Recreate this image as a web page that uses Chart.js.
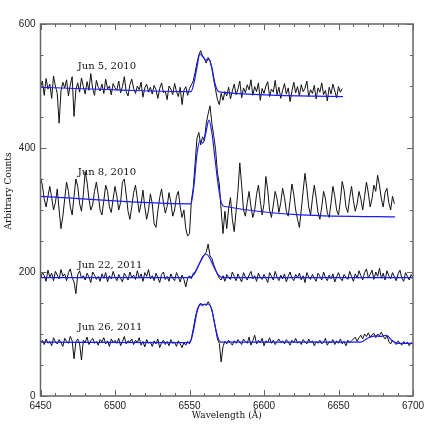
<!DOCTYPE html>
<html>
<head>
<meta charset="utf-8">
<script src="https://cdn.jsdelivr.net/npm/chart.js@4.4.0/dist/chart.umd.min.js"></script>
<style>
  html, body { margin: 0; padding: 0; background: #fff; }
  canvas { display: block; }
</style>
</head>
<body>
<canvas id="grafico" width="436" height="436"></canvas>
<script>
// muestreo de los espectros (Angstrom)
const inicioOnda = 6450;
const pasoOnda = 1.25;

const fechas = ['Jun 5, 2010', 'Jun 8, 2010', 'Jun 22, 2011', 'Jun 26, 2011'];
const posEtiquetas = [[6475, 531], [6475, 360], [6475, 211], [6475, 111]];

const ticksX = [6450, 6500, 6550, 6600, 6650, 6700];
const ticksY = [0, 200, 400, 600];

// espectros observados
const jun5 = [
  498, 508, 485, 512, 495, 503, 480, 516, 500, 488,
  440, 492, 506, 497, 510, 484, 502, 515, 451, 494,
  505, 490, 513, 499, 487, 507, 493, 520, 496, 485,
  509, 498, 492, 503, 488, 511, 495, 500, 486, 504,
  497, 493, 508, 489, 499, 515, 491, 484, 502, 511,
  496, 488, 500, 494, 506, 482, 497, 503, 490, 498,
  487, 501, 494, 480, 496, 505, 489, 492, 478, 500,
  495, 486, 504, 491, 483, 498, 470, 493, 499, 485,
  496, 502, 508, 522, 537, 550, 557, 549, 544, 537,
  546, 541, 528, 510, 494, 478, 470, 488, 477, 491,
  484, 498, 479, 492, 503, 486, 495, 508, 481, 497,
  489, 502, 494, 510, 485, 499, 491, 505, 477, 496,
  488, 500, 507, 483, 495, 490, 509, 486, 498, 480,
  493, 504, 487, 497, 475, 492, 506, 489, 499, 484,
  502, 491, 496, 508, 483, 494, 488, 501, 479, 497,
  490, 505, 486, 493, 476, 498, 487, 503, 492, 481,
  499, 490, 496
];
const jun8 = [
  352, 340, 318, 305, 322, 338, 320, 300, 312, 334,
  300, 270, 290, 318, 345, 330, 305, 292, 322, 350,
  338, 310, 298, 325, 362, 345, 318, 300, 308, 330,
  345, 325, 300, 292, 315, 340, 330, 305, 296, 318,
  338, 322, 300, 312, 345, 350, 325, 298, 285, 305,
  328, 340, 318, 296, 310, 332, 305, 285, 300, 326,
  310, 278, 272, 298, 320, 334, 312, 295, 306, 328,
  312, 290, 300, 322, 330, 305, 288, 300, 270, 258,
  262, 315, 335, 375, 415, 425, 405, 418, 412, 440,
  455, 468, 440, 420, 398, 360, 342, 300, 262, 298,
  270, 302, 320, 285, 265, 298, 330, 376, 340, 300,
  290, 312, 330, 305, 288, 300, 325, 340, 315, 292,
  310, 354, 332, 300, 288, 308, 330, 318, 296, 312,
  335, 320, 298, 290, 315, 342, 325, 300, 285, 272,
  300, 330, 359, 335, 305, 292, 318, 340, 320, 296,
  285, 305, 330, 318, 295, 288, 312, 338, 322, 300,
  292, 315, 346, 332, 305, 296, 320, 338, 315, 298,
  310, 330, 318, 300, 322, 345, 328, 305, 318, 340,
  330, 356, 340, 318, 305, 328, 335, 312, 300, 322,
  310
];
const jun22 = [
  188, 200, 194, 185, 203, 192, 198, 186, 201, 195,
  189, 204, 193, 197, 186, 199, 205, 191, 184, 165,
  196, 202, 190, 194, 187, 198, 192, 183, 200, 195,
  188, 193, 185, 197, 190, 199, 184, 194, 189, 201,
  192, 186, 196, 190, 184, 198, 193, 187, 200, 191,
  195, 188, 202, 190, 197, 185, 199, 193, 204, 189,
  194, 186, 198, 191, 183, 196, 200, 188, 193, 185,
  197, 190, 186, 199, 192, 184, 195, 188, 176, 190,
  194, 189, 198, 200, 206, 212, 218, 225, 228, 232,
  245, 226, 222, 212, 204, 196, 190, 187, 194, 185,
  196, 191, 188, 200, 193, 186, 197, 190, 184, 199,
  192, 187, 195, 201, 189, 194, 185, 198, 191, 188,
  196, 190, 183, 199, 193, 187, 201, 192, 186, 195,
  189, 197, 184, 193, 200, 190, 186, 196, 191, 198,
  187, 194, 183, 199, 192, 188, 196, 190, 185, 198,
  193, 187, 200, 191, 186, 195, 189, 197, 184, 192,
  199, 190, 186, 196, 192, 188, 201, 193, 185, 197,
  190, 202, 194, 187, 199, 205, 191, 196, 203, 188,
  200, 193, 206, 190, 198, 187, 202, 194, 189, 199,
  192, 186, 197, 203, 190, 185, 199, 193, 187, 196,
  191
];
const jun26 = [
  86, 90, 83, 92, 85, 88, 81, 94, 87, 84,
  91, 86, 80, 93, 88, 85, 96, 89, 60, 87,
  92, 84, 58, 90, 86, 95, 83, 89, 93, 85,
  88, 82, 91, 87, 94, 84, 89, 80, 92, 86,
  90, 85, 93, 81, 88, 96, 84, 89, 87, 92,
  83, 90, 86, 94, 82, 88, 79, 91, 85, 87,
  80, 89, 84, 92, 78, 86, 90, 83, 88, 81,
  91, 85, 87, 80, 89, 84, 78, 86, 82, 88,
  84, 92, 108, 125, 138, 146, 150, 145, 148, 146,
  152, 147, 140, 125, 108, 92, 85, 55, 80, 88,
  84, 90, 86, 82, 89, 85, 91, 87, 83, 92,
  88, 85, 95, 82, 89, 98, 84, 90, 86, 93,
  81, 89, 86, 94, 85, 90, 83, 88, 92, 86,
  89, 84, 91, 87, 82, 90, 86, 93, 85, 88,
  83, 91, 87, 84, 92, 86, 89, 81, 88, 85,
  90, 84, 87, 93, 82, 88, 86, 91, 83, 89,
  85, 92, 84, 88, 81, 90, 86, 89, 92, 95,
  88, 94, 98, 92, 100, 96, 102, 95, 99, 101,
  94, 100, 97, 103, 96, 92, 98, 88, 84, 90,
  86, 83, 89, 85, 82, 88, 84, 87, 81, 86,
  84
];

// ajustes (curvas azules)
const ajuste5X = [6450, 6551, 6553, 6555, 6557, 6559, 6561, 6563, 6565, 6567, 6569, 6571, 6653];
const ajuste5Y = [498, 491, 505, 530, 552, 547, 542, 543, 530, 505, 492, 490, 483];
const ajuste8X = [6450, 6551, 6553, 6555, 6557, 6559, 6561, 6563, 6565, 6567, 6569, 6571, 6573, 6688];
const ajuste8Y = [322, 310, 340, 390, 412, 408, 425, 445, 425, 385, 345, 315, 306, 289];
const ajuste22X = [6450, 6550, 6553, 6556, 6559, 6561, 6563, 6566, 6569, 6572, 6700];
const ajuste22Y = [191, 191, 196, 210, 224, 229, 225, 210, 196, 191, 191];
const ajuste26X = [6450, 6549, 6551, 6553, 6555, 6557, 6560, 6563, 6565, 6567, 6569, 6571, 6665, 6670, 6675, 6678, 6682, 6686, 6690, 6700];
const ajuste26Y = [87, 86, 90, 110, 135, 147, 148, 148, 138, 115, 95, 87, 87, 94, 97, 96, 98, 89, 85, 85];

function puntosEspectro(valores) {
    return valores.map((v, i) => ({ x: inicioOnda + i * pasoOnda, y: v }));
}
function puntosAjuste(xs, ys) {
    return xs.map((x, i) => ({ x: x, y: ys[i] }));
}

function serieNegra(valores) {
    return { data: puntosEspectro(valores), borderColor: '#111', borderWidth: 1, pointRadius: 0, tension: 0, order: 2 };
}
function serieAzul(xs, ys) {
    return { data: puntosAjuste(xs, ys), borderColor: '#1a1aff', borderWidth: 1.2, pointRadius: 0, cubicInterpolationMode: 'monotone', order: 1 };
}

// marcas hacia adentro, marco y textos
const marcoYTextos = {
    id: 'marcoYTextos',
    afterDraw(chart) {
        const ctx = chart.ctx;
        const a = chart.chartArea;
        const sx = chart.scales.x, sy = chart.scales.y;
        ctx.save();
        ctx.strokeStyle = '#666';
        ctx.lineWidth = 1.5;
        ctx.strokeRect(a.left, a.top, a.right - a.left, a.bottom - a.top);

        ctx.lineWidth = 1;
        ctx.beginPath();
        for (let v = sx.min; v <= sx.max; v += 10) {
            const px = Math.round(sx.getPixelForValue(v)) + 0.5;
            const largo = v % 50 === 0 ? 6 : 3;
            ctx.moveTo(px, a.bottom); ctx.lineTo(px, a.bottom - largo);
            ctx.moveTo(px, a.top); ctx.lineTo(px, a.top + largo);
        }
        for (let v = sy.min; v <= sy.max; v += 50) {
            const py = Math.round(sy.getPixelForValue(v)) + 0.5;
            const largo = v % 200 === 0 ? 6 : 3;
            ctx.moveTo(a.left, py); ctx.lineTo(a.left + largo, py);
            ctx.moveTo(a.right, py); ctx.lineTo(a.right - largo, py);
        }
        ctx.stroke();

        ctx.fillStyle = '#111';
        ctx.font = '10px "DejaVu Serif"';
        ctx.textBaseline = 'middle';
        ctx.textAlign = 'left';
        fechas.forEach((f, i) => {
            ctx.fillText(f, sx.getPixelForValue(posEtiquetas[i][0]), sy.getPixelForValue(posEtiquetas[i][1]));
        });

        ctx.font = '9px "DejaVu Serif"';
        ctx.textAlign = 'center';
        ctx.fillText('Wavelength (Å)', (a.left + a.right) / 2, 416);
        ctx.translate(9, 191);
        ctx.rotate(-Math.PI / 2);
        ctx.fillText('Arbitrary Counts', 0, 0);
        ctx.restore();
    }
};

const ctx = document.getElementById('grafico').getContext('2d');
new Chart(ctx, {
    type: 'line',
    data: {
        datasets: [
            serieNegra(jun5), serieNegra(jun8), serieNegra(jun22), serieNegra(jun26),
            serieAzul(ajuste5X, ajuste5Y), serieAzul(ajuste8X, ajuste8Y),
            serieAzul(ajuste22X, ajuste22Y), serieAzul(ajuste26X, ajuste26Y)
        ]
    },
    options: {
        responsive: false,
        animation: false,
        devicePixelRatio: 1,
        layout: { padding: { top: 24, right: 23, left: 0, bottom: 0 } },
        plugins: { legend: { display: false }, tooltip: { enabled: false } },
        scales: {
            x: {
                type: 'linear', min: 6450, max: 6700,
                grid: { display: false, drawTicks: false },
                border: { display: false },
                afterBuildTicks: s => { s.ticks = ticksX.map(v => ({ value: v })); },
                afterFit: s => { s.height = 40; },
                ticks: {
                    padding: 4, color: '#222', maxRotation: 0,
                    font: { family: '"Liberation Sans"', size: 10 },
                    callback: v => String(v)
                }
            },
            y: {
                min: 0, max: 600,
                grid: { display: false, drawTicks: false },
                border: { display: false },
                afterBuildTicks: s => { s.ticks = ticksY.map(v => ({ value: v })); },
                afterFit: s => { s.width = 40.5; },
                ticks: {
                    padding: 5, color: '#222',
                    font: { family: '"Liberation Sans"', size: 10 },
                    callback: v => String(v)
                }
            }
        }
    },
    plugins: [marcoYTextos]
});
</script>
</body>
</html>
